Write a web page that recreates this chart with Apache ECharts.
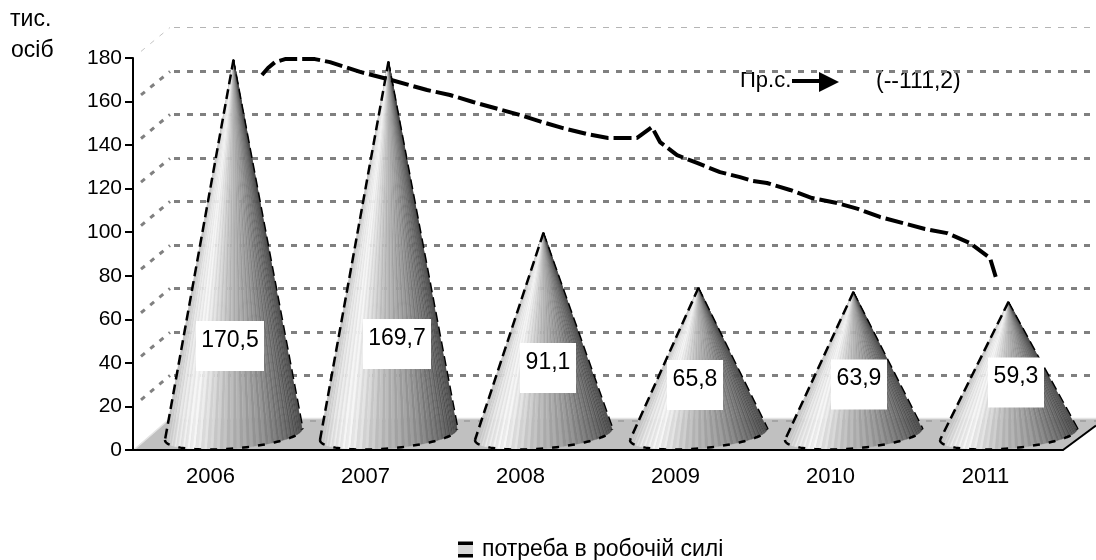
<!DOCTYPE html>
<html>
<head>
<meta charset="utf-8">
<style>
  html, body { margin: 0; padding: 0; background: #fff; }
  #chart { width: 1096px; height: 560px; }
</style>
</head>
<body>
<div id="chart"></div>
<script src="https://cdn.jsdelivr.net/npm/echarts@6/dist/echarts.min.js"></script>
<script>
// дані діаграми
const years = ["2006", "2007", "2008", "2009", "2010", "2011"];
const demand = [170.5, 169.7, 91.1, 65.8, 63.9, 59.3];
const demandLabels = ["170,5", "169,7", "91,1", "65,8", "63,9", "59,3"];
const yTicks = [0, 20, 40, 60, 80, 100, 120, 140, 160, 180];
const seriesName = "потреба в робочій силі";
// лінія тренду: позиція в одиницях категорій (0..6)
const trendX = [0.832, 0.871, 0.916, 0.981, 1.174, 1.271, 1.368, 1.465, 1.645, 1.897, 2.045, 2.194, 2.355, 2.497, 2.639, 2.774, 2.929, 3.065, 3.252, 3.348, 3.4, 3.51, 3.639, 3.787, 3.916, 4.0, 4.09, 4.239, 4.381, 4.542, 4.677, 4.819, 4.968, 5.11, 5.252, 5.4, 5.529, 5.568];
const trendY = [172.2, 175.4, 178.1, 179.5, 179.5, 178.1, 175.9, 173.6, 170.3, 165.3, 163.0, 159.8, 156.6, 153.8, 150.6, 147.8, 145.1, 143.3, 143.3, 148.3, 141.4, 135.4, 131.8, 127.6, 125.3, 123.5, 122.6, 119.4, 115.7, 113.4, 110.7, 107.0, 104.2, 101.5, 99.6, 95.0, 88.2, 79.0];

// зсув підписів відносно центру категорії на нульовій лінії
const labelShiftX = [19.5, 31.5, 27.5, 19.5, 28.5, 30.5];
const labelShiftY = [-109.5, -111.5, -87.5, -70.5, -71, -73];

const FONT = '"Liberation Sans", Arial, sans-serif';
const DEPTH_X = 37;
const DEPTH_Y = -31;
const CONE_DX = 23;
const CONE_DY = -19;
const shadeStops = [
  [0, 190], [0.08, 225], [0.2, 240], [0.45, 185], [0.7, 145], [0.88, 105], [1, 70],
];

function shade(u, odd) {
  let g = shadeStops[shadeStops.length - 1][1];
  for (let k = 1; k < shadeStops.length; k++) {
    if (u <= shadeStops[k][0]) {
      const a = shadeStops[k - 1];
      const b = shadeStops[k];
      g = a[1] + ((b[1] - a[1]) * (u - a[0])) / (b[0] - a[0]);
      break;
    }
  }
  g = Math.round(g + (odd ? 9 : -5));
  return "rgb(" + g + "," + g + "," + g + ")";
}

// задня стінка: пунктирні лінії сітки, діагоналі та підлога
function renderWall(params, api) {
  const tick = api.value(1);
  const cs = params.coordSys;
  const p = api.coord([0, tick]);
  const y = p[1];
  const x0 = cs.x;
  const x1 = cs.x + cs.width;
  const children = [];
  if (tick === 0) {
    children.push({
      type: "polygon",
      shape: { points: [[x0, y], [x0 + DEPTH_X, y + DEPTH_Y], [1096, y + DEPTH_Y], [1096, y - 24.5], [x1 + 33, y - 24.5], [x1, y]] },
      style: { fill: "#c0c0c0" },
    });
    children.push({
      type: "polyline",
      shape: { points: [[x0 + 2, y - 1], [x0 + DEPTH_X, y + DEPTH_Y - 0.5], [1096, y + DEPTH_Y - 0.5]] },
      style: { fill: null, stroke: "#e4e4e4", lineWidth: 1.5 },
    });
    children.push({
      type: "line",
      shape: { x1: x0 + DEPTH_X, y1: y + DEPTH_Y + 2, x2: 1096, y2: y + DEPTH_Y + 2 },
      style: { stroke: "#8a8a8a", lineWidth: 1, lineDash: [6, 8] },
    });
    children.push({
      type: "line",
      shape: { x1: x1, y1: y, x2: x1 + 33, y2: y - 24.5 },
      style: { stroke: "#000", lineWidth: 2 },
    });
    return { type: "group", children: children };
  }
  const top = tick === yTicks[yTicks.length - 1];
  const backY = Math.round(y + DEPTH_Y) + 0.5;
  children.push({
    type: "line",
    shape: { x1: x0 + DEPTH_X + 4, y1: backY, x2: 1096, y2: backY },
    style: { stroke: top ? "#b4b4b4" : "#808080", lineWidth: top ? 1 : 3, lineDash: [6, 7], fill: null },
  });
  children.push({
    type: "line",
    shape: { x1: x0 + 8, y1: y - 6.6, x2: x0 + DEPTH_X, y2: backY },
    style: { stroke: top ? "#c4c4c4" : "#808080", lineWidth: top ? 1 : 3, lineDash: [5, 7], fill: null },
  });
  return { type: "group", children: children };
}

// конус: віяло клинів від вершини до передньої дуги основи
function renderCone(params, api) {
  const i = api.value(0);
  const v = api.value(1);
  const base = api.coord([i, 0]);
  const top = api.coord([i, v]);
  const apex = [top[0] + CONE_DX, top[1] + CONE_DY];
  const cx = base[0] + CONE_DX;
  const cy = base[1] - 15.5;
  const halfW = api.size([1, 0])[0] * 0.442;
  const N = 64;
  const pts = [];
  for (let k = 0; k <= N; k++) {
    const t = Math.PI - (Math.PI * k) / N;
    pts.push([cx + halfW * Math.cos(t), cy - 5.5 * Math.cos(t) + 14 * Math.sin(t)]);
  }
  const children = [];
  for (let k = 0; k < N; k++) {
    const u = ((pts[k][0] + pts[k + 1][0]) / 2 - pts[0][0]) / (pts[N][0] - pts[0][0]);
    const c = shade(u, k % 2 === 1);
    children.push({
      type: "polygon",
      shape: { points: [apex, pts[k], pts[k + 1]] },
      style: { fill: c, stroke: c, lineWidth: 0.4 },
    });
  }
  children.push({
    type: "line",
    shape: { x1: apex[0], y1: apex[1], x2: pts[0][0], y2: pts[0][1] },
    style: { stroke: "#000", lineWidth: 2.5, lineDash: [10, 5] },
  });
  children.push({
    type: "line",
    shape: { x1: apex[0], y1: apex[1], x2: pts[N][0] + 1, y2: pts[N][1] },
    style: { stroke: "#000", lineWidth: 1.5, lineDash: [10, 5] },
  });
  children.push({
    type: "polyline",
    shape: { points: pts },
    style: { fill: null, stroke: "#000", lineWidth: 2.5, lineDash: [7, 9] },
  });
  // підпис у білому прямокутнику
  const text = demandLabels[i];
  const w = text.length > 4 ? 68 : 56;
  const lx = base[0] + labelShiftX[i];
  const ly = base[1] + labelShiftY[i];
  children.push({
    type: "rect",
    shape: { x: lx - w / 2, y: ly - 19.5, width: w, height: 50 },
    style: { fill: "#fff" },
  });
  children.push({
    type: "text",
    style: { text: text, x: lx, y: ly, fill: "#000", font: "23px " + FONT, align: "center", verticalAlign: "middle" },
  });
  return { type: "group", children: children };
}

const chart = echarts.init(document.getElementById("chart"));
const legendIcon = new echarts.graphic.LinearGradient(0, 0, 0, 1, [
  { offset: 0, color: "#000" },
  { offset: 0.2, color: "#000" },
  { offset: 0.21, color: "#d8d8d8" },
  { offset: 0.79, color: "#d8d8d8" },
  { offset: 0.8, color: "#000" },
  { offset: 1, color: "#000" },
]);

chart.setOption({
  animation: false,
  backgroundColor: "#fff",
  textStyle: { fontFamily: FONT, color: "#000" },
  grid: { left: 133, right: 33, top: 58, bottom: 110, containLabel: false },
  legend: {
    left: 458,
    top: 538,
    padding: 0,
    itemWidth: 15,
    itemHeight: 16,
    icon: "rect",
    selectedMode: false,
    data: [seriesName],
    itemStyle: { color: legendIcon },
    textStyle: { fontFamily: FONT, fontSize: 23, color: "#000", padding: [0, 0, 0, 4] },
  },
  xAxis: [
    {
      type: "category",
      data: years,
      z: 5,
      axisLine: { lineStyle: { color: "#000", width: 2 } },
      axisTick: { length: 8, lineStyle: { color: "#000", width: 2 } },
      axisLabel: { color: "#000", fontFamily: FONT, fontSize: 22, margin: 16 },
    },
    { type: "value", min: 0, max: 6, show: false },
  ],
  yAxis: {
    type: "value",
    min: 0,
    max: 180,
    interval: 20,
    z: 5,
    splitLine: { show: false },
    axisLine: { show: true, onZero: false, lineStyle: { color: "#000", width: 2 } },
    axisTick: { show: true, length: 8, lineStyle: { color: "#000", width: 2 } },
    axisLabel: { color: "#000", fontFamily: FONT, fontSize: 21, margin: 11 },
  },
  series: [
    {
      type: "custom",
      silent: true,
      z: 1,
      renderItem: renderWall,
      encode: { x: 0, y: 1 },
      data: yTicks.map((t) => [0, t]),
    },
    {
      name: seriesName,
      type: "custom",
      z: 3,
      renderItem: renderCone,
      encode: { x: 0, y: 1 },
      itemStyle: { color: legendIcon },
      data: demand.map((v, i) => [i, v]),
    },
    {
      type: "line",
      xAxisIndex: 1,
      z: 4,
      smooth: false,
      showSymbol: false,
      silent: true,
      lineStyle: { color: "#000", width: 4, type: [18, 5] },
      data: trendX.map((x, i) => [x, trendY[i]]),
    },
  ],
  graphic: [
    { type: "text", left: 10, top: 8, style: { text: "тис.", fill: "#000", font: "23px " + FONT } },
    { type: "text", left: 11, top: 39, style: { text: "осіб", fill: "#000", font: "23px " + FONT } },
    { type: "text", left: 740, top: 70, style: { text: "Пр.с.", fill: "#000", font: "22px " + FONT } },
    { type: "text", left: 876, top: 70, style: { text: "(--111,2)", fill: "#000", font: "23px " + FONT } },
    { type: "line", shape: { x1: 792, y1: 81, x2: 821, y2: 81 }, style: { stroke: "#000", lineWidth: 4 } },
    { type: "polygon", shape: { points: [[819, 72], [839, 82], [819, 92]] }, style: { fill: "#000" } },
  ],
});
</script>
</body>
</html>
